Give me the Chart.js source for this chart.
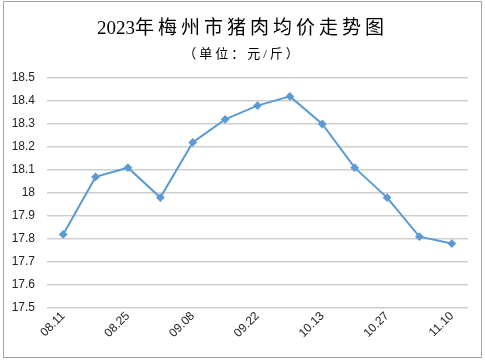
<!DOCTYPE html>
<html><head><meta charset="utf-8">
<script src="https://cdn.jsdelivr.net/npm/chart.js@4"></script>
<style>
html,body{margin:0;padding:0;background:#fff;}
#wrap{position:relative;width:485px;height:361px;}
#title{position:absolute;left:0;top:16px;width:485px;text-align:center;font-family:"Liberation Serif","Noto Sans CJK SC",serif;font-size:19px;color:#000;line-height:24px;}
#title .cj{letter-spacing:4px;}
#sub{position:absolute;left:0;top:45px;width:485px;text-align:center;font-family:"Liberation Serif","Noto Sans CJK SC",serif;font-size:13px;letter-spacing:3px;color:#000;line-height:18px;}
canvas{position:absolute;left:0;top:0;}
</style></head>
<body>
<div id="wrap">
<canvas id="c" width="485" height="361"></canvas>
<div id="title">2023<span class="cj">年梅州市猪肉均价走势图</span></div>
<div id="sub">（单位：元/斤）</div>
</div>
<script>
const categories = ["08.11","08.18","08.25","09.01","09.08","09.15","09.22","09.28","10.13","10.20","10.27","11.03","11.10"];
const prices = [17.82,18.07,18.11,17.98,18.22,18.32,18.38,18.42,18.30,18.11,17.98,17.81,17.78];
const yMin = 17.5, yMax = 18.5, yStep = 0.1;

const borderPlugin = {
  id:'outerBorder',
  afterDraw(chart){
    const ctx = chart.ctx;
    ctx.save();
    ctx.strokeStyle = '#a6a6a6';
    ctx.lineWidth = 1;
    ctx.strokeRect(3.5,1.5,478,356);
    ctx.restore();
  }
};

new Chart(document.getElementById('c'), {
  type:'line',
  data:{
    labels:categories,
    datasets:[{
      data:prices,
      borderColor:'#5b9bd5',
      backgroundColor:'#5b9bd5',
      borderWidth:2,
      pointStyle:'rectRot',
      pointRadius:3,
      pointHoverRadius:3,
      tension:0,
      fill:false
    }]
  },
  options:{
    responsive:false,
    animation:false,
    layout:{padding:{top:78,left:4,right:17,bottom:0}},
    plugins:{legend:{display:false},title:{display:false},tooltip:{enabled:false}},
    scales:{
      x:{
        offset:true,
        grid:{display:false},
        border:{display:false},
        ticks:{
          autoSkip:false,
          maxRotation:45,minRotation:45,
          padding:-7,
          color:'#222',
          font:{family:'"Liberation Sans", Arial, sans-serif',size:12},
          callback:function(v,i){return i%2===0?categories[i]:'';}
        },
        afterFit(s){s.height = 53;}
      },
      y:{
        min:yMin,max:yMax,
        grid:{color:'#cfcfcf',lineWidth:1.5,drawTicks:false},
        border:{display:false},
        ticks:{
          stepSize:yStep,
          padding:12,
          color:'#222',
          font:{family:'"Liberation Sans", Arial, sans-serif',size:12},
          callback:function(v){return String(Number(v.toFixed(1)));}
        },
        afterFit(s){s.width = 43;}
      }
    }
  },
  plugins:[borderPlugin]
});
</script>
</body></html>
